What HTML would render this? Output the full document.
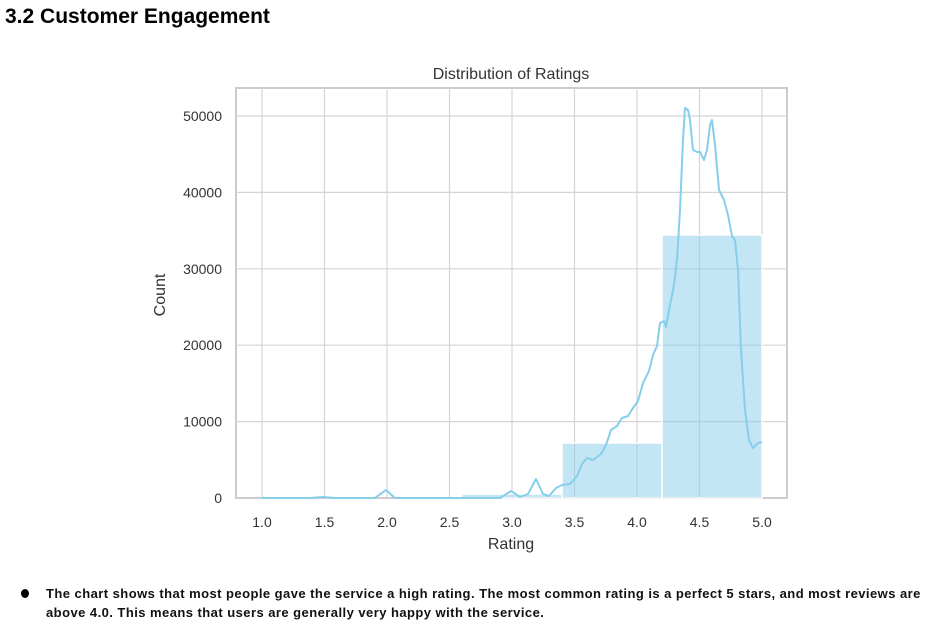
<!DOCTYPE html>
<html><head><style>
body{margin:0;background:#fff;width:933px;height:635px;overflow:hidden;position:relative;font-family:"Liberation Sans",sans-serif}
h1{position:absolute;left:5px;top:5px;margin:0;font-size:21px;font-weight:bold;color:#000}
.p{position:absolute;left:46px;top:584px;font-size:13px;font-weight:bold;line-height:19px;color:#111;width:890px;letter-spacing:0.45px;white-space:nowrap}
.b{position:absolute;left:21px;top:589px;width:8px;height:9px;border-radius:50%;background:#000}
</style></head><body>
<h1>3.2 Customer Engagement</h1>
<svg width="933" height="635" style="position:absolute;left:0;top:0" font-family="Liberation Sans, sans-serif">
<text x="511" y="79" text-anchor="middle" font-size="16" fill="#333">Distribution of Ratings</text>
<rect x="236" y="88" width="551" height="410" fill="#fff" stroke="#ccc" stroke-width="2"/>
<g stroke="#d5d5d5" stroke-width="1.2">
<line x1="262" y1="88" x2="262" y2="498"/><line x1="324.5" y1="88" x2="324.5" y2="498"/><line x1="387" y1="88" x2="387" y2="498"/><line x1="449.5" y1="88" x2="449.5" y2="498"/><line x1="512" y1="88" x2="512" y2="498"/><line x1="574.5" y1="88" x2="574.5" y2="498"/><line x1="637" y1="88" x2="637" y2="498"/><line x1="699.5" y1="88" x2="699.5" y2="498"/><line x1="762" y1="88" x2="762" y2="498"/>
<line x1="236" y1="116" x2="787" y2="116"/><line x1="236" y1="192.4" x2="787" y2="192.4"/><line x1="236" y1="268.8" x2="787" y2="268.8"/><line x1="236" y1="345.2" x2="787" y2="345.2"/><line x1="236" y1="421.6" x2="787" y2="421.6"/>
</g>
<g fill="#87ceeb" fill-opacity="0.5" stroke="#fff" stroke-width="1.5">
<rect x="462" y="494" width="100" height="4"/>
<rect x="562" y="443" width="100" height="55"/>
<rect x="662" y="235" width="100" height="263"/>
</g>
<polyline fill="none" stroke="#87ceeb" stroke-width="2" stroke-linejoin="round" points="262,498 310,498 323,497 335,498 375,498 386,490 395,498 500,498 511,491 520,497 528,494 536,479 543,494 549,496 556,488 562,485 570,484 577,476 582,464 587,458 593,460 601,454 606,445 611,430 617,426 622,418 628,416 633,408 638,401 643,383 649,371 653,355 657,346 660,323 664,321 666,327 669,310 674,285 677,260 680,210 683,140 685,108 688,110 690,120 693,150 697,152 700,152 704,160 707,150 710,125 712,120 715,145 719,190 724,200 728,215 732,236 735,240 738,270 741,350 745,410 749,440 753,448 758,443 762,442"/>
<g font-size="14" fill="#333" text-anchor="middle">
<text x="262" y="527">1.0</text><text x="324.5" y="527">1.5</text><text x="387" y="527">2.0</text><text x="449.5" y="527">2.5</text><text x="512" y="527">3.0</text><text x="574.5" y="527">3.5</text><text x="637" y="527">4.0</text><text x="699.5" y="527">4.5</text><text x="762" y="527">5.0</text>
</g>
<g font-size="14" fill="#333" text-anchor="end">
<text x="222" y="503">0</text><text x="222" y="426.6">10000</text><text x="222" y="350.2">20000</text><text x="222" y="273.8">30000</text><text x="222" y="197.4">40000</text><text x="222" y="121">50000</text>
</g>
<text x="511" y="549" text-anchor="middle" font-size="16" fill="#333">Rating</text>
<text transform="translate(165,295) rotate(-90)" text-anchor="middle" font-size="16" fill="#333">Count</text>
</svg>
<div class="b"></div>
<div class="p">The chart shows that most people gave the service a high rating. The most common rating is a perfect 5 stars, and most reviews are<br>above 4.0. This means that users are generally very happy with the service.</div>
</body></html>
